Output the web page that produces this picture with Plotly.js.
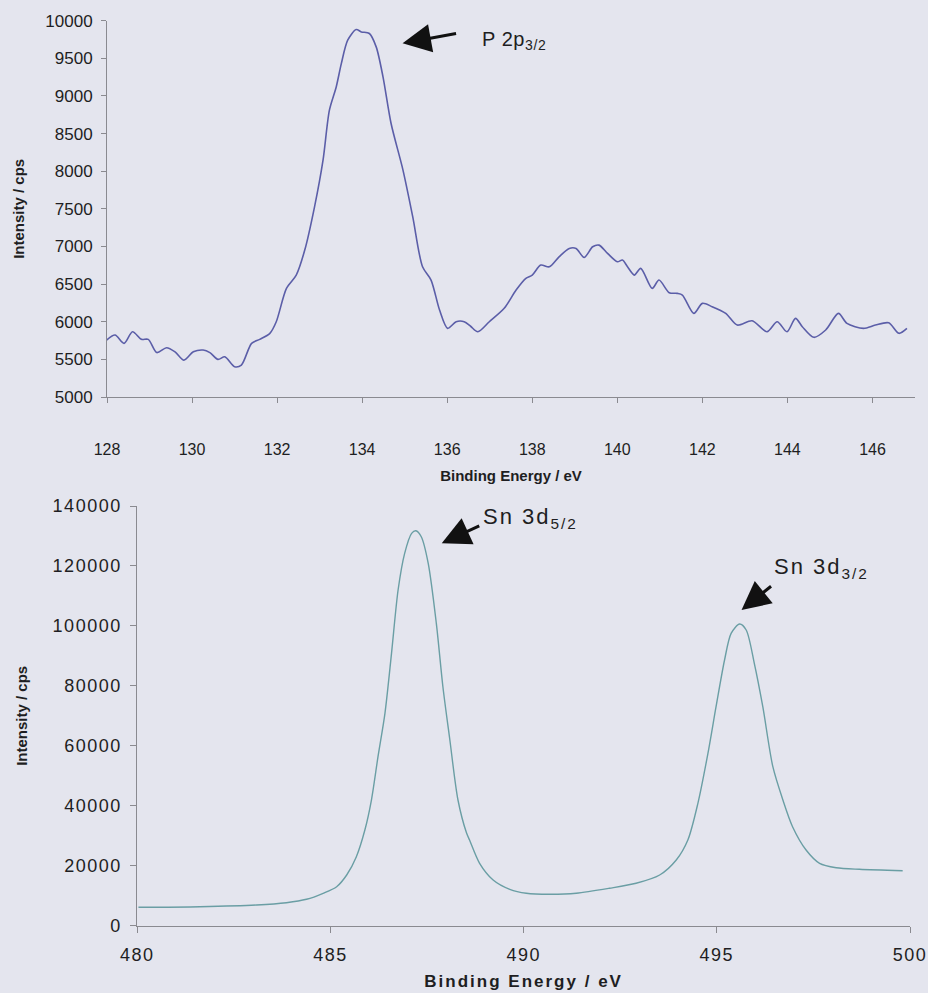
<!DOCTYPE html>
<html>
<head>
<meta charset="utf-8">
<script src="https://cdn.plot.ly/plotly-3.0.1.min.js"></script>
<style>
  html, body { margin: 0; padding: 0; background: #e4e5ee; }
  #chart { width: 928px; height: 993px; }
  /* the lower panel uses spaced lettering */
  #chart .x2tick text, #chart .y2tick text { letter-spacing: 1.5px; }
  #chart .g-x2title text { letter-spacing: 2px; }
  #chart .annotation[data-index="1"] text,
  #chart .annotation[data-index="2"] text { letter-spacing: 2px; }
  #chart .annotation[data-index="0"] text { letter-spacing: 0.6px; }
</style>
</head>
<body>
<div id="chart"></div>
<script>
// P 2p region: binding energy (eV) and intensity (cps)
const p2pEnergy = [127.99, 128.19, 128.40, 128.60, 128.81, 128.97, 129.17, 129.40, 129.60, 129.81,
  130.03, 130.26, 130.42, 130.61, 130.77, 131.00, 131.16, 131.40, 131.59, 131.83,
  131.98, 132.22, 132.45, 132.65, 132.88, 133.08, 133.23, 133.39, 133.51, 133.66,
  133.86, 133.98, 134.17, 134.33, 134.49, 134.68, 134.96, 135.19, 135.42, 135.62,
  135.82, 136.01, 136.21, 136.40, 136.55, 136.72, 136.99, 137.34, 137.62, 137.85,
  138.00, 138.20, 138.40, 138.63, 138.87, 139.03, 139.22, 139.42, 139.57, 139.77,
  140.00, 140.12, 140.24, 140.40, 140.55, 140.82, 140.98, 141.22, 141.41, 141.53,
  141.80, 142.00, 142.23, 142.55, 142.82, 143.17, 143.52, 143.76, 143.99, 144.19,
  144.35, 144.62, 144.90, 145.20, 145.40, 145.79, 146.07, 146.38, 146.62, 146.81];
const p2pIntensity = [5757, 5823, 5713, 5867, 5766, 5766, 5590, 5655, 5600, 5490,
  5600, 5624, 5590, 5500, 5535, 5403, 5425, 5713, 5766, 5846,
  6000, 6443, 6620, 6952, 7527, 8147, 8811, 9120, 9430, 9741,
  9883, 9851, 9830, 9652, 9254, 8634, 8015, 7394, 6730, 6554,
  6155, 5912, 6000, 6000, 5940, 5867, 6000, 6178, 6421, 6576,
  6620, 6753, 6730, 6863, 6974, 6974, 6854, 6996, 7018, 6908,
  6797, 6820, 6730, 6620, 6709, 6443, 6554, 6386, 6377, 6355,
  6111, 6244, 6200, 6111, 5956, 6013, 5867, 6000, 5867, 6045,
  5934, 5793, 5890, 6111, 5978, 5912, 5956, 5986, 5846, 5912];

// Sn 3d region
const sn3dEnergy = [480.03, 481.62, 483.09, 483.86, 484.38, 484.81, 485.16, 485.42, 485.67, 485.89,
  486.06, 486.23, 486.41, 486.58, 486.75, 486.92, 487.10, 487.21, 487.35, 487.53,
  487.74, 487.91, 488.09, 488.30, 488.52, 488.60, 488.86, 489.21, 489.64, 490.07,
  490.67, 491.36, 492.22, 492.91, 493.52, 493.95, 494.25, 494.51, 494.77, 494.98,
  495.20, 495.37, 495.59, 495.76, 495.97, 496.19, 496.45, 496.71, 496.96, 497.31,
  497.66, 498.09, 498.69, 499.81];
const sn3dIntensity = [6137, 6337, 6905, 7672, 8806, 10807, 13009, 16911, 23016, 31921,
  41928, 56371, 70847, 90860, 111975, 124216, 130887, 131754, 129754, 120880,
  100867, 79720, 61941, 41928, 31000, 28586, 20814, 15244, 12141, 10807,
  10474, 10807, 12475, 14143, 16911, 21915, 28586, 40828, 57505, 73048,
  88626, 97532, 100633, 98633, 87525, 73048, 53035, 41928, 33022, 25250,
  20814, 19347, 18813, 18346];

const p2pTicks = [128, 130, 132, 134, 136, 138, 140, 142, 144, 146];
const p2pYTicks = [5000, 5500, 6000, 6500, 7000, 7500, 8000, 8500, 9000, 9500, 10000];
const sn3dXTicks = [480, 485, 490, 495, 500];
const sn3dYTicks = [0, 20000, 40000, 60000, 80000, 100000, 120000, 140000];

const FONT = 'Liberation Sans, Arial, Helvetica, sans-serif';
const INK = '#1e1e22';
const AXIS = '#8a8a90';

const W = 928, H = 993;
const px = (a, b) => [a / W, b / W];
const py = (top, bottom) => [1 - bottom / H, 1 - top / H];

const traces = [
  {
    x: p2pEnergy, y: p2pIntensity, xaxis: 'x', yaxis: 'y',
    type: 'scatter', mode: 'lines',
    line: { color: '#5b5ea8', width: 1.6, shape: 'spline', smoothing: 0.8 },
    hoverinfo: 'skip'
  },
  {
    x: sn3dEnergy, y: sn3dIntensity, xaxis: 'x2', yaxis: 'y2',
    type: 'scatter', mode: 'lines',
    line: { color: '#6a9ea4', width: 1.4, shape: 'spline', smoothing: 0.8 },
    hoverinfo: 'skip'
  }
];

const axisBase = {
  showline: true, linecolor: AXIS, linewidth: 1,
  ticks: 'outside', ticklen: 5, tickcolor: AXIS, tickwidth: 1,
  showgrid: false, zeroline: false, fixedrange: true
};

const layout = {
  width: W, height: H,
  margin: { l: 0, r: 0, t: 0, b: 0 },
  paper_bgcolor: '#e4e5ee', plot_bgcolor: 'rgba(0,0,0,0)',
  showlegend: false,
  font: { family: FONT, color: INK },
  xaxis: Object.assign({}, axisBase, {
    domain: px(107, 915), range: [128, 147], anchor: 'y',
    tickvals: p2pTicks, ticktext: p2pTicks.map(String),
    ticklabelstandoff: 33,
    tickfont: { size: 16, color: INK },
    title: { text: 'Binding Energy / eV', font: { size: 15, weight: 'bold', color: INK }, standoff: 13 }
  }),
  yaxis: Object.assign({}, axisBase, {
    domain: py(20.7, 397), range: [5000, 10000], anchor: 'x',
    tickvals: p2pYTicks, ticktext: p2pYTicks.map(String),
    ticklabelstandoff: 5,
    tickfont: { size: 17, color: INK },
    title: { text: 'Intensity / cps', font: { size: 15, weight: 'bold', color: INK }, standoff: 17 }
  }),
  xaxis2: Object.assign({}, axisBase, {
    domain: px(137.3, 910), range: [480, 500], anchor: 'y2',
    tickvals: sn3dXTicks, ticktext: sn3dXTicks.map(String),
    ticklen: 6, ticklabelstandoff: 7,
    tickfont: { size: 18, color: INK },
    title: { text: 'Binding Energy / eV', font: { size: 17, weight: 'bold', color: INK }, standoff: 10 }
  }),
  yaxis2: Object.assign({}, axisBase, {
    domain: py(506, 925.7), range: [0, 140000], anchor: 'x2',
    tickvals: sn3dYTicks, ticktext: sn3dYTicks.map(String),
    ticklen: 6, ticklabelstandoff: 5,
    tickfont: { size: 18, color: INK },
    title: { text: 'Intensity / cps', font: { size: 15, weight: 'bold', color: INK }, standoff: 30 }
  }),
  annotations: [
    // peak labels
    { xref: 'paper', yref: 'paper', x: 482 / W, y: 1 - 40 / H, xanchor: 'left', yanchor: 'middle',
      text: 'P 2p<sub>3/2</sub>', showarrow: false, font: { size: 20, color: INK } },
    { xref: 'paper', yref: 'paper', x: 489 / W, y: 1 - 518 / H, xanchor: 'left', yanchor: 'middle',
      text: 'Sn 3d<sub>5/2</sub>', showarrow: false, font: { size: 22, color: INK } },
    { xref: 'paper', yref: 'paper', x: 780 / W, y: 1 - 568 / H, xanchor: 'left', yanchor: 'middle',
      text: 'Sn 3d<sub>3/2</sub>', showarrow: false, font: { size: 22, color: INK } },
    // arrows pointing at the peaks
    { xref: 'x', yref: 'y', x: 134.95, y: 9700, axref: 'pixel', ayref: 'pixel', ax: 55, ay: -10,
      text: '', showarrow: true, arrowhead: 2, arrowsize: 1.9, arrowwidth: 3, arrowcolor: '#111' },
    { xref: 'x2', yref: 'y2', x: 487.88, y: 127600, axref: 'pixel', ayref: 'pixel', ax: 39, ay: -18,
      text: '', showarrow: true, arrowhead: 2, arrowsize: 1.9, arrowwidth: 3, arrowcolor: '#111' },
    { xref: 'x2', yref: 'y2', x: 495.64, y: 105300, axref: 'pixel', ayref: 'pixel', ax: 31, ay: -25,
      text: '', showarrow: true, arrowhead: 2, arrowsize: 1.9, arrowwidth: 3, arrowcolor: '#111' }
  ]
};

Plotly.newPlot('chart', traces, layout, { staticPlot: true, displayModeBar: false });
</script>
</body>
</html>
